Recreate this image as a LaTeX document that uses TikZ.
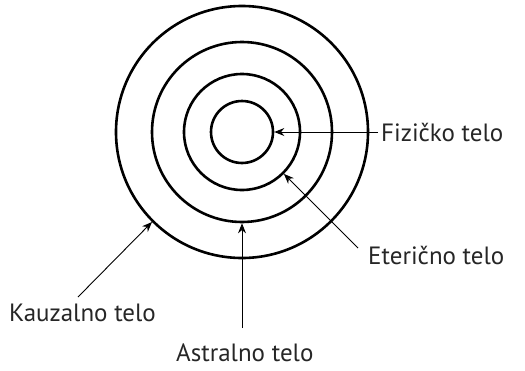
\documentclass[tikz,border=0pt]{standalone}
\usepackage{fontspec}
\setmainfont{PT Sans}
\usetikzlibrary{arrows.meta}
\begin{document}
\begin{tikzpicture}[x=1pt,y=-1pt,
  ring/.style={circle,draw,line width=2.6pt,inner sep=0pt},
  lbl/.style={font=\fontsize{25}{28}\selectfont,inner sep=0pt,text=black!85},
  arr/.style={-{Stealth[length=10pt,width=8pt]},line width=0.9pt}]
\useasboundingbox (0,0) rectangle (525,370);
\node[ring,minimum size=62pt]  (c1) at (242,132) {};
\node[ring,minimum size=116pt] (c2) at (242,132) {};
\node[ring,minimum size=180pt] (c3) at (242,132) {};
\node[ring,minimum size=252pt] (c4) at (242,132) {};
\node[lbl,anchor=west] (fiz) at (381,132) {Fizičko telo};
\node[lbl,anchor=west] (ete) at (368,255) {Eterično telo};
\node[lbl,anchor=west] (kau) at (9,313) {Kauzalno telo};
\node[lbl,anchor=west] (ast) at (176,353) {Astralno telo};
\coordinate (tf) at (378,132);
\coordinate (te) at (358,248);
\coordinate (tk) at (78,297);
\coordinate (ta) at (242,328);
\draw[arr] (tf) -- (c1.east);
\draw[arr] (te) -- (c2.-45);
\draw[arr] (tk) -- (c4.-135);
\draw[arr] (ta) -- (c3.south);
\end{tikzpicture}
\end{document}
